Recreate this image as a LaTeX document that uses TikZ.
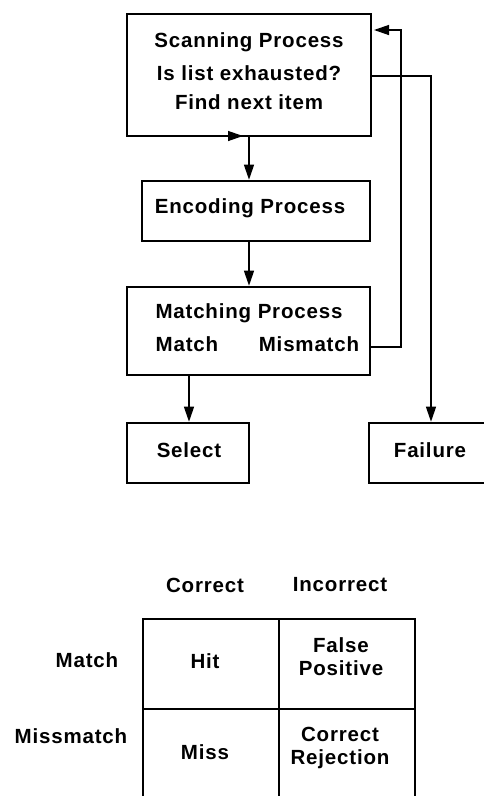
\documentclass[tikz,border=0pt]{standalone}
\usepackage{fontspec}
\setmainfont[LetterSpace=4]{Liberation Sans}
\usetikzlibrary{arrows.meta,calc}
\tikzset{
  boxst/.style={draw, line width=2.6pt, inner sep=0pt},
  conn/.style={line width=1.3pt},
  arr/.style={conn, -{Triangle[length=15pt,width=10pt]}},
  txt/.style={font=\fontsize{20.5}{24}\bfseries\selectfont, inner sep=0pt, anchor=center},
  grid/.style={line width=2.4pt},
}
\begin{document}
\begin{tikzpicture}[x=1pt,y=-1pt]
\useasboundingbox (0,0) rectangle (483,796);
% boxes
\node[boxst, minimum width=244pt, minimum height=122pt] (scan) at (249,75) {};
\node[boxst, minimum width=228pt, minimum height=60pt] (enc) at (256,211) {};
\node[boxst, minimum width=243pt, minimum height=88pt] (match) at (248.5,331) {};
\node[boxst, minimum width=122pt, minimum height=60pt] (sel) at (188,453) {};
\node[boxst, minimum width=130pt, minimum height=60pt] (fail) at (434,453) {};
% texts
\node[txt] (t1) at (249,42) {Scanning Process};
\node[txt] (t2) at (249,73) {Is list exhausted?};
\node[txt] (t3) at (249,102) {Find next item};
\node[txt] (t4) at (250,208) {Encoding Process};
\node[txt] (t5) at (249,313) {Matching Process};
\node[txt] (t6) at (187,344) {Match};
\node[txt] (t7) at (309,344) {Mismatch};
\node[txt] (t8) at (189,450) {Select};
\node[txt] (t9) at (430,450) {Failure};
% connectors
\coordinate (sb) at (249,136);
\draw[arr] (sb) -- (enc.north -| sb);
\coordinate (eb) at (249,241);
\draw[arr] (eb) -- (match.north -| eb);
\coordinate (mb) at (189,375);
\draw[arr] (mb) -- (sel.north -| mb);
\coordinate (se) at (371,76);
\coordinate (sr) at (431,76);
\draw[arr] (se) -- (sr) -- (fail.north -| sr);
\coordinate (me) at (370,347);
\coordinate (mr) at (401,347);
\coordinate (tr) at (401,30);
\coordinate (ti) at (374,30);
\draw[arr] (me) -- (mr) -- (tr) -- (ti);
\coordinate (ba) at (218,136);
\coordinate (bb) at (243,136);
\draw[arr] (ba) -- (bb);
% table
\coordinate (g1) at (143,619);
\coordinate (g2) at (279,619);
\coordinate (g3) at (415,619);
\coordinate (g4) at (143,800);
\coordinate (g5) at (279,800);
\coordinate (g6) at (415,800);
\coordinate (h1) at (143,709);
\coordinate (h2) at (415,709);
\draw[grid] (g4) -- (g1) -- (g3) -- (g6);
\draw[grid] (g2) -- (g5);
\draw[grid] (h1) -- (h2);
\node[txt] (c1) at (205,585) {Correct};
\node[txt] (c2) at (340,585) {Incorrect};
\node[txt] (r1) at (87,660) {Match};
\node[txt] (r2) at (71,736) {Missmatch};
\node[txt] (hit) at (205,661) {Hit};
\node[txt, align=center] (fp) at (341,657) {False\\[-1pt]Positive};
\node[txt] (miss) at (205,752) {Miss};
\node[txt, align=center] (cr) at (340,748) {Correct\\[-1pt]Rejection};
\end{tikzpicture}
\end{document}
